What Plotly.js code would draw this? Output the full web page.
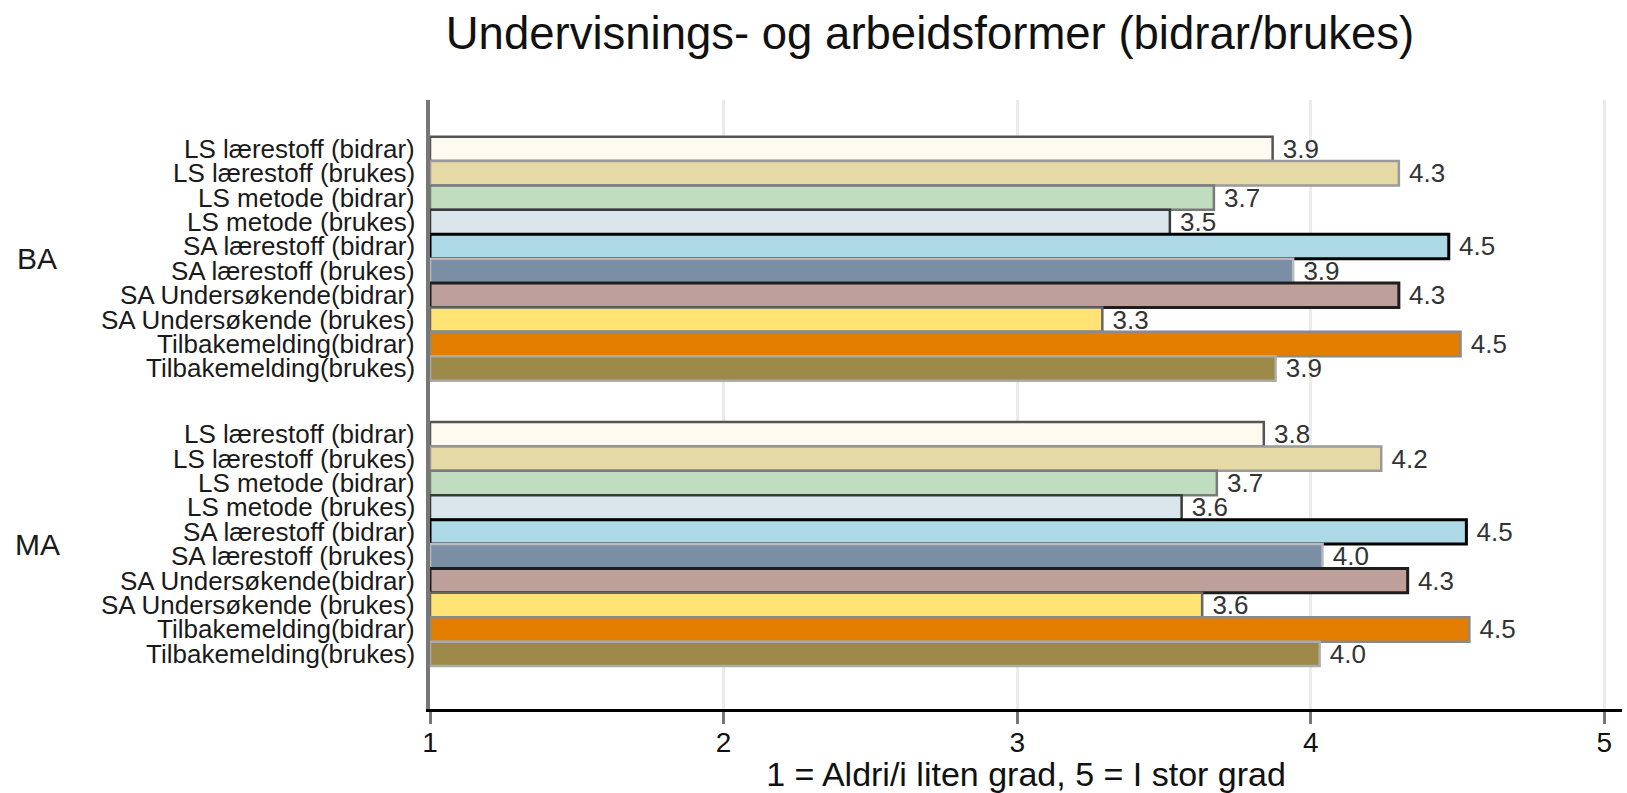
<!DOCTYPE html>
<html>
<head>
<meta charset="utf-8">
<script src="https://cdn.plot.ly/plotly-3.0.1.min.js"></script>
<style>
html,body{margin:0;padding:0;background:#fff;}
#chart{width:1627px;height:793px;}
</style>
</head>
<body>
<div id="chart"></div>
<script>
// Groups (y categories)
const groups = ['BA', 'MA'];

// Series names (one bar per series in each group)
const seriesNames = [
  'LS lærestoff (bidrar)',
  'LS lærestoff (brukes)',
  'LS metode (bidrar)',
  'LS metode (brukes)',
  'SA lærestoff (bidrar)',
  'SA lærestoff (brukes)',
  'SA Undersøkende(bidrar)',
  'SA Undersøkende (brukes)',
  'Tilbakemelding(bidrar)',
  'Tilbakemelding(brukes)'
];

// Values per group, in series order
const baValues = [3.87, 4.30, 3.67, 3.52, 4.47, 3.94, 4.30, 3.29, 4.51, 3.88];
const maValues = [3.84, 4.24, 3.68, 3.56, 4.53, 4.04, 4.33, 3.63, 4.54, 4.03];

// Styles
const fillColors = ['#FFFAF0', '#E5D9A5', '#C0DDC0', '#DAE6EC', '#ADD8E6',
                    '#7A8FA6', '#BE9F99', '#FFE374', '#E37E00', '#9C8847'];
const lineColors = ['#555555', '#9A9A9A', '#7A7A7A', '#3A3A3A', '#000000',
                    '#BBBBBB', '#1E1E1E', '#666666', '#8A8A8A', '#ABABAB'];
const lineWidths = [2.5, 2.5, 2.5, 2.5, 3, 2.5, 3, 2.5, 2.5, 2.5];

const FONT = 'Liberation Sans, Arial, sans-serif';
const BARGAP = 0.145;
const N = seriesNames.length;

// Bars run from the axis start (1) to the value: length = value - 1, base = 1
const traces = seriesNames.map((name, i) => {
  const vals = [baValues[i], maValues[i]];
  return {
    type: 'bar',
    orientation: 'h',
    name: name,
    y: groups,
    x: vals.map(v => v - 1),
    base: 1,
    customdata: vals,
    texttemplate: '\u00A0%{customdata:.1f}',
    textposition: 'outside',
    constraintext: 'none',
    cliponaxis: false,
    textfont: { family: FONT, size: 26, color: '#333333' },
    marker: { color: fillColors[i], line: { color: lineColors[i], width: lineWidths[i] } },
    hoverinfo: 'name'
  };
});

// Category labels beside each bar
const annotations = [];
const w = (1 - BARGAP) / N;
groups.forEach((g, gi) => {
  seriesNames.forEach((name, i) => {
    annotations.push({
      xref: 'paper', yref: 'y',
      x: 0, xanchor: 'right', xshift: -13,
      y: gi - (1 - BARGAP) / 2 + (i + 0.5) * w,
      yanchor: 'middle',
      text: name, showarrow: false,
      font: { family: FONT, size: 26, color: '#1a1a1a' }
    });
  });
  annotations.push({
    xref: 'paper', yref: 'y',
    x: 0, xanchor: 'center', xshift: -393,
    y: gi, yanchor: 'middle',
    text: g, showarrow: false,
    font: { family: FONT, size: 30, color: '#1a1a1a' }
  });
});

const layout = {
  width: 1627, height: 793,
  margin: { l: 430, r: 5, t: 100, b: 84 },
  paper_bgcolor: '#ffffff', plot_bgcolor: '#ffffff',
  barmode: 'group', bargap: BARGAP, bargroupgap: 0,
  showlegend: false,
  title: {
    text: 'Undervisnings- og arbeidsformer (bidrar/brukes)',
    font: { family: FONT, size: 45.5, color: '#111111' },
    xref: 'container', x: 0.5716, xanchor: 'center',
    yref: 'container', y: 0.958, yanchor: 'middle'
  },
  xaxis: {
    range: [1, 5.06],
    tickvals: [1, 2, 3, 4, 5],
    ticktext: ['1', '2', '3', '4', '5'],
    showgrid: true, gridcolor: '#EBEBEB', gridwidth: 3,
    zeroline: false,
    showline: true, linecolor: '#000000', linewidth: 3,
    ticks: 'outside', ticklen: 12, tickwidth: 3, tickcolor: '#777777',
    ticklabelstandoff: -6,
    tickfont: { family: FONT, size: 28, color: '#111111' },
    title: { text: '1 = Aldri/i liten grad, 5 = I stor grad',
             font: { family: FONT, size: 34, color: '#111111' }, standoff: 22 }
  },
  yaxis: {
    type: 'category',
    categoryorder: 'array', categoryarray: groups,
    range: [1.578, -0.556],
    showticklabels: false, ticks: '',
    showgrid: false, zeroline: false,
    showline: true, linecolor: '#777777', linewidth: 4
  },
  annotations: annotations
};

Plotly.newPlot('chart', traces, layout, { displayModeBar: false, staticPlot: true });
</script>
</body>
</html>
